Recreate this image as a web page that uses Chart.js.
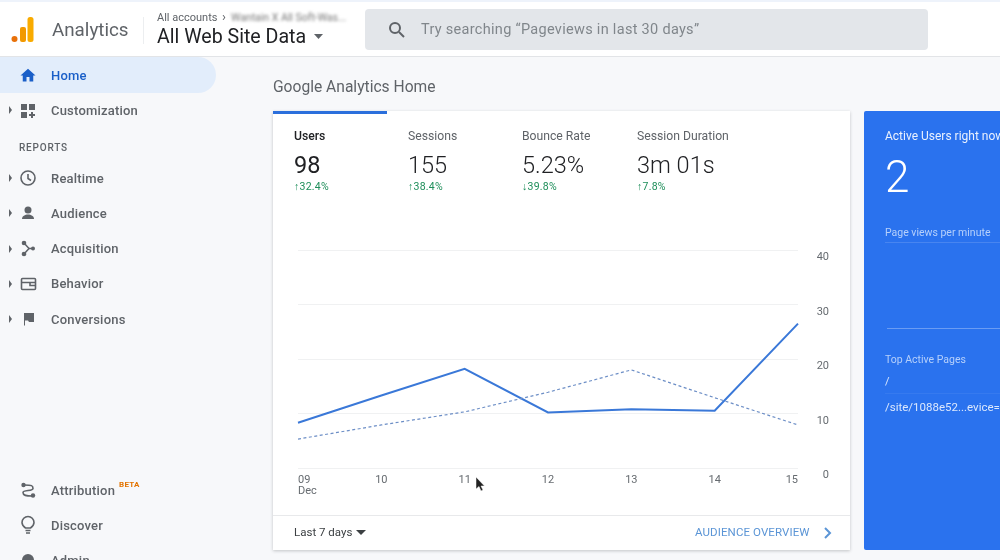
<!DOCTYPE html>
<html><head><meta charset="utf-8">
<script src="https://cdn.jsdelivr.net/npm/chart.js@4"></script>
<style>
html,body{margin:0;padding:0;width:1000px;height:560px;overflow:hidden;background:#f7f8fa;font-family:Roboto,sans-serif}
#page{position:absolute;left:0;top:0;width:1000px;height:560px;overflow:hidden;filter:blur(.4px)}
.b{position:absolute}
.t{position:absolute;white-space:nowrap;transform:translateY(-50%);line-height:1.2}
svg{position:absolute;overflow:visible}
#chart{position:absolute;left:273px;top:200px;width:577px;height:315px}
</style></head>
<body><div id="page">
<div class="b" style="left:0;top:0;width:1000px;height:57px;background:#fff;border-bottom:1px solid #e2e4e7;box-sizing:border-box"></div>
<div class="b" style="left:0;top:0;width:1000px;height:2px;background:#eef3fb"></div>
<div class="b" style="left:143px;top:17px;width:1px;height:27px;background:#eceef0"></div>
<div class="b" style="left:365px;top:9px;width:563px;height:41px;background:#e3e6ea;border-radius:4px"></div>
<div class="b" style="left:0;top:57px;width:216px;height:36px;background:#e2edfb;border-radius:0 18px 18px 0"></div>
<div class="b" style="left:273px;top:111px;width:577px;height:439px;background:#fff;box-shadow:0 1px 3px rgba(60,64,67,.28)"></div>
<div class="b" style="left:273px;top:111px;width:114px;height:3px;background:#2b6fdc"></div>
<div class="b" style="left:273px;top:515px;width:577px;height:1px;background:#e8e9eb"></div>
<div class="b" style="left:864px;top:111px;width:136px;height:439px;background:#2a72ee;border-radius:2px 0 0 2px"></div>
<div class="b" style="left:885px;top:242px;width:115px;height:1px;background:rgba(255,255,255,.14)"></div>
<div class="b" style="left:887px;top:328px;width:113px;height:1px;background:rgba(255,255,255,.3)"></div>
<div class="b" style="left:885px;top:393px;width:115px;height:1px;background:rgba(255,255,255,.06)"></div>

<svg style="left:0;top:0" width="1000" height="560" viewBox="0 0 1000 560">
  <circle cx="14.5" cy="39" r="3" fill="#e8710a"/>
  <rect x="20" y="27" width="6" height="15" rx="2" fill="#f29900"/>
  <rect x="27.5" y="17" width="6" height="25" rx="2.5" fill="#f9ab00"/>
  <path d="M314 34h9l-4.500 5z" fill="#5f6368"/>
  <g fill="none" stroke="#5f6368" stroke-width="2"><circle cx="395" cy="28" r="5"/><path d="M399 32l5 5"/></g>
  <path d="M356 530h10l-5 5z" fill="#3c4043"/>
  <path d="M825 528l5 5-5 5" fill="none" stroke="#5b95d6" stroke-width="2"/>
  <path transform="translate(19,66.500) scale(.75)" d="M10 20v-6h4v6h5v-8h3L12 3 2 12h3v8z" fill="#1a5fc8"/>
  <g fill="#5f6368">
    <path d="M9 106l3 4-3 4zM9 174l3 4-3 4zM9 209l3 4-3 4zM9 245l3 4-3 4zM9 280l3 4-3 4zM9 315l3 4-3 4z"/>
    <rect x="21" y="104" width="6" height="6"/><rect x="29" y="104" width="6" height="6"/><rect x="21" y="112" width="6" height="6"/><path d="M31 112h2v2h2v2h-2v2h-2v-2h-2v-2h2z"/>
    <circle cx="28" cy="210" r="3.500"/><path d="M22 219c0-3 3-4.500 6-4.500s6 1.500 6 4.500z"/>
    <circle cx="24" cy="243" r="2.300"/><circle cx="24" cy="254" r="2.300"/><circle cx="33" cy="248.500" r="2"/>
    <path d="M24 243l5 5.500-5 5.500" fill="none" stroke="#5f6368" stroke-width="1.500"/><path d="M28 248.500h4" stroke="#5f6368" stroke-width="1.500"/>
    <path d="M24 313h10v9h-5l-1-1.500h-3v5h-1z"/>
  </g>
  <g fill="none" stroke="#5f6368" stroke-width="1.600">
    <circle cx="28" cy="178" r="7"/><path d="M28 174v4.500l3 2"/>
    <rect x="21.500" y="278.500" width="14" height="11" rx="1"/><path d="M21.500 282.500h14M30 282.500v3h5.500" />
    <path d="M24 485c8 0 9 .5 9 3.500s-10 1-10 4 3 3.500 9 3.500"/>
    <path d="M25.500 530.500h5M26 533h4"/><path d="M25.500 528c-2-1.500-3.500-3-3.500-5.500a6 6 0 0 1 12 0c0 2.500-1.500 4-3.500 5.500z"/>
  </g>
  <g fill="#5f6368"><circle cx="23.500" cy="485" r="2.200"/><circle cx="33" cy="495.500" r="2.200"/><circle cx="28" cy="560" r="6"/></g>
  <path d="M476 477v12l3-2.500 2 4.500 2-1-2-4h3.500z" fill="#222" stroke="#fff" stroke-width=".5"/>
</svg>
<div id="texts"></div>
<canvas id="chart" width="577" height="315"></canvas>
</div>
<script>
const days = ["09","10","11","12","13","14","15"];
const monthLabel = "Dec";
const usersCurrent = [8.3,13.3,18.2,10.2,10.8,10.5,26.5];
const usersPrevious = [5.3,7.9,10.3,13.9,18.0,12.9,7.9];
const yTickValues = [0,10,20,30,40];

const metricNames = ["Users","Sessions","Bounce Rate","Session Duration"];
const metricValues = ["98","155","5.23%","3m 01s"];
const metricChanges = ["↑32.4%","↑38.4%","↓39.8%","↑7.8%"];
const navTop = ["Customization"];
const navReports = ["Realtime","Audience","Acquisition","Behavior","Conversions"];
const navBottom = ["Attribution","Discover","Admin"];

const host = document.getElementById('texts');
function t(x,y,text,css){
  const e=document.createElement('div');e.className='t';e.textContent=text;
  e.style.cssText='left:'+x+'px;top:'+y+'px;'+css;host.appendChild(e);return e;
}
const navCss='font-size:13px;letter-spacing:.2px;font-weight:500;color:#5f6368;';
t(52,30,"Analytics",'font-size:18.800px;color:#5f6368;');
t(157,17.500,"All accounts",'font-size:11px;color:#5f6368;');
t(222,17,"›",'font-size:13px;color:#5f6368;');
t(231,17.500,"Wantain X All Soft-Was...",'font-size:10.500px;color:#777;filter:blur(1.500px);');
t(157,36.500,"All Web Site Data",'font-size:19.600px;color:#202124;');
t(421,29.500,"Try searching “Pageviews in last 30 days”",'font-size:14.500px;letter-spacing:.3px;color:#80868b;');
t(51,75.500,"Home",'font-size:13px;letter-spacing:.2px;font-weight:500;color:#1a5fc8;');
t(51,111,navTop[0],navCss);
t(19,148,"REPORTS",'font-size:10px;letter-spacing:.8px;font-weight:500;color:#5f6368;');
const reportY=[178.5,213.5,249,284,319.5];
navReports.forEach((n,i)=>t(51,reportY[i],n,navCss));
const bottomY=[490.5,525.5,561];
navBottom.forEach((n,i)=>t(51,bottomY[i],n,navCss));
t(119,484.5,"BETA",'font-size:8px;font-weight:700;letter-spacing:.3px;color:#e37400;');
t(273,87,"Google Analytics Home",'font-size:15.600px;color:#5f6368;');
const metricX=[294,408,522,637];
metricNames.forEach((n,i)=>{
  t(metricX[i],136,n,'font-size:12.200px;'+(i===0?'font-weight:500;color:#202124;':'color:#5f6368;'));
  t(metricX[i],165,metricValues[i],'font-size:23.500px;color:#202124;'+(i?'font-weight:300;':''));
  t(metricX[i],187,metricChanges[i],'font-size:10.500px;letter-spacing:.25px;color:#1e8e5a;');
});
t(294,532.5,"Last 7 days",'font-size:11.500px;color:#3c4043;');
t(695,533,"AUDIENCE OVERVIEW",'font-size:11.500px;letter-spacing:.1px;color:#5b95d6;');
t(885,136,"Active Users right now",'font-size:12px;color:#eaf1fe;');
t(885,177,"2",'font-size:44px;font-weight:300;color:#fff;');
t(885,233,"Page views per minute",'font-size:10.500px;color:#b6d0fb;');
t(885,359.500,"Top Active Pages",'font-size:10.500px;color:#b6d0fb;');
t(885,382,"/",'font-size:11px;color:#dce8fd;');
t(885,407.500,"/site/1088e52...evice=",'font-size:11.500px;color:#dce8fd;');

new Chart(document.getElementById('chart'),{
  type:'line',
  data:{labels:days,datasets:[
    {data:usersPrevious,borderColor:'#6c8ec6',borderWidth:1.2,borderDash:[3,2.5],pointRadius:0,tension:0,fill:false},
    {data:usersCurrent,borderColor:'#3a78d8',borderWidth:2,pointRadius:0,tension:0,fill:false}
  ]},
  options:{
    responsive:false,animation:false,devicePixelRatio:1,
    layout:{padding:{left:25,top:50,right:21,bottom:0}},
    plugins:{legend:{display:false},tooltip:{enabled:false},title:{display:false}},
    events:[],
    scales:{
      x:{offset:false,
        grid:{display:false},border:{display:false},
        afterFit(s){s.height=47;},
        ticks:{align:'inner',autoSkip:false,maxRotation:0,padding:-1,color:'#666b70',
          font:{family:'Roboto',size:11,lineHeight:1},
          callback(v,i){return i===0?[days[i],monthLabel]:days[i];}}
      },
      y:{position:'right',min:0,max:40,
        border:{display:false},
        grid:{color:'#f0f1f2',lineWidth:1,drawTicks:false},
        afterFit(s){s.width=31;},
        afterBuildTicks(s){s.ticks=yTickValues.map(v=>({value:v}));},
        ticks:{crossAlign:'far',padding:19,labelOffset:7.5,color:'#666b70',
          font:{family:'Roboto',size:11}}
      }
    }
  }
});
</script>
</body></html>
